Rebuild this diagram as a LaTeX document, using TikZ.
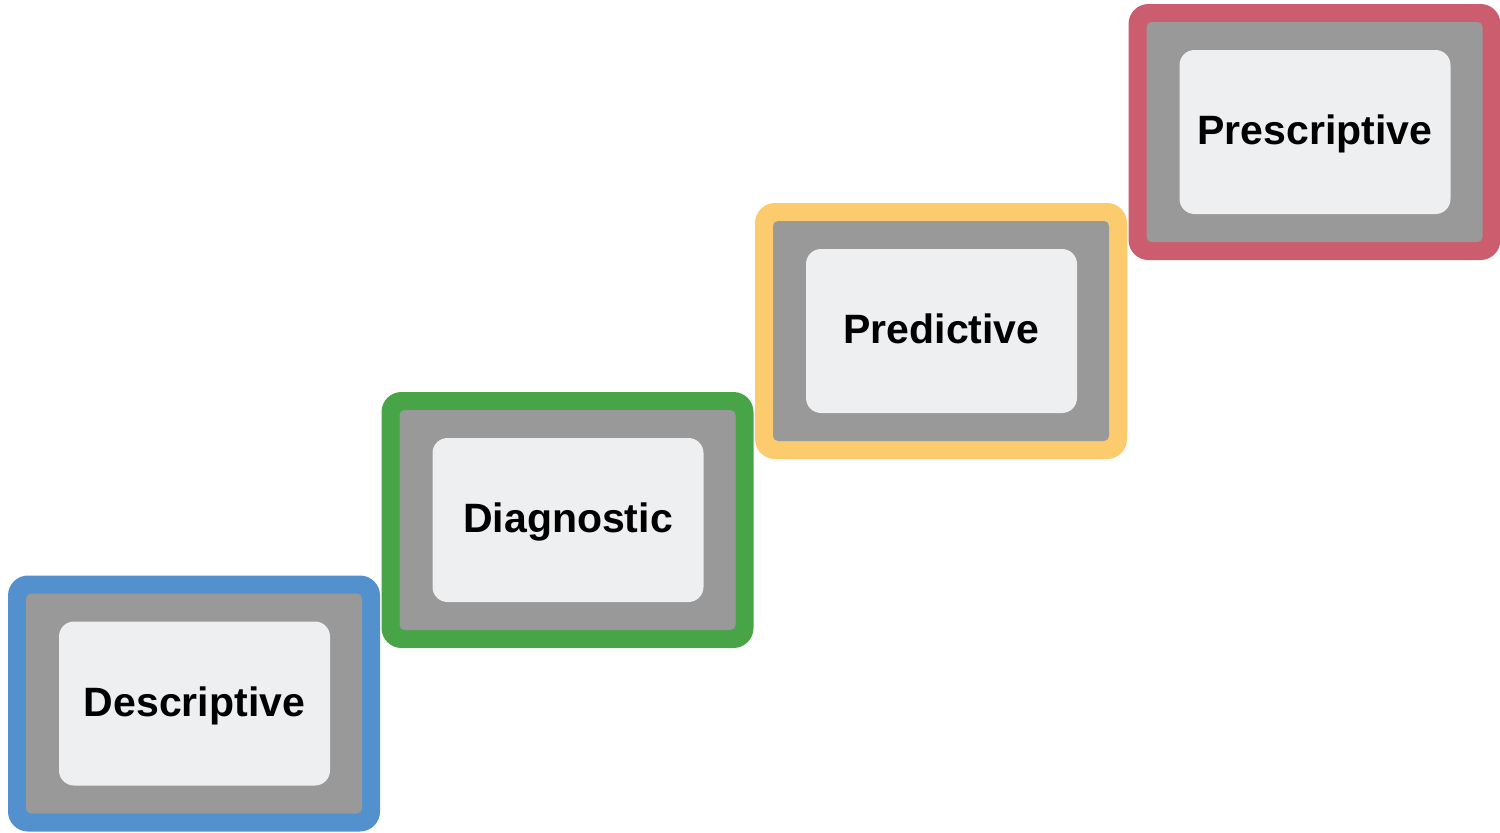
\documentclass[tikz,border=0pt]{standalone}
\usepackage{fontspec}
\setmainfont{Liberation Sans}
\definecolor{cblue}{HTML}{5290CE}
\definecolor{cgreen}{HTML}{47A548}
\definecolor{cyellow}{HTML}{FBCB6E}
\definecolor{cred}{HTML}{CB5D6E}
\definecolor{cgray}{HTML}{999999}
\definecolor{clight}{HTML}{EEEFF1}
\tikzset{
  outerbox/.style={draw=none, rounded corners=20pt, minimum width=372pt, minimum height=256pt, inner sep=0pt},
  midbox/.style={draw=none, fill=cgray, rounded corners=5pt, minimum width=336pt, minimum height=220pt, inner sep=0pt},
  innerbox/.style={draw=none, fill=clight, rounded corners=15pt, minimum width=271pt, minimum height=164pt, inner sep=0pt,
    text height=33pt, text depth=8pt,
    font=\fontsize{41}{49}\selectfont\bfseries, text=black},
}
\begin{document}
\begin{tikzpicture}[x=1pt,y=-1pt]
\fill[white] (0,0) rectangle (1500,833);
\useasboundingbox (0,0) rectangle (1500,833);
% Descriptive
\node[outerbox, fill=cblue] (d-outer) at (194,703.5) {};
\node[midbox] (d-mid) at (194,703.5) {};
\node[innerbox] (d-in) at (194.5,703.5) {Descriptive};
% Diagnostic
\node[outerbox, fill=cgreen] (g-outer) at (567.5,520) {};
\node[midbox] (g-mid) at (567.5,520) {};
\node[innerbox] (g-in) at (568,520) {Diagnostic};
% Predictive
\node[outerbox, fill=cyellow] (p-outer) at (941,331) {};
\node[midbox] (p-mid) at (941,331) {};
\node[innerbox] (p-in) at (941.5,331) {Predictive};
% Prescriptive
\node[outerbox, fill=cred] (s-outer) at (1314.5,132) {};
\node[midbox] (s-mid) at (1314.5,132) {};
\node[innerbox] (s-in) at (1315,132) {Prescriptive};
\end{tikzpicture}
\end{document}
